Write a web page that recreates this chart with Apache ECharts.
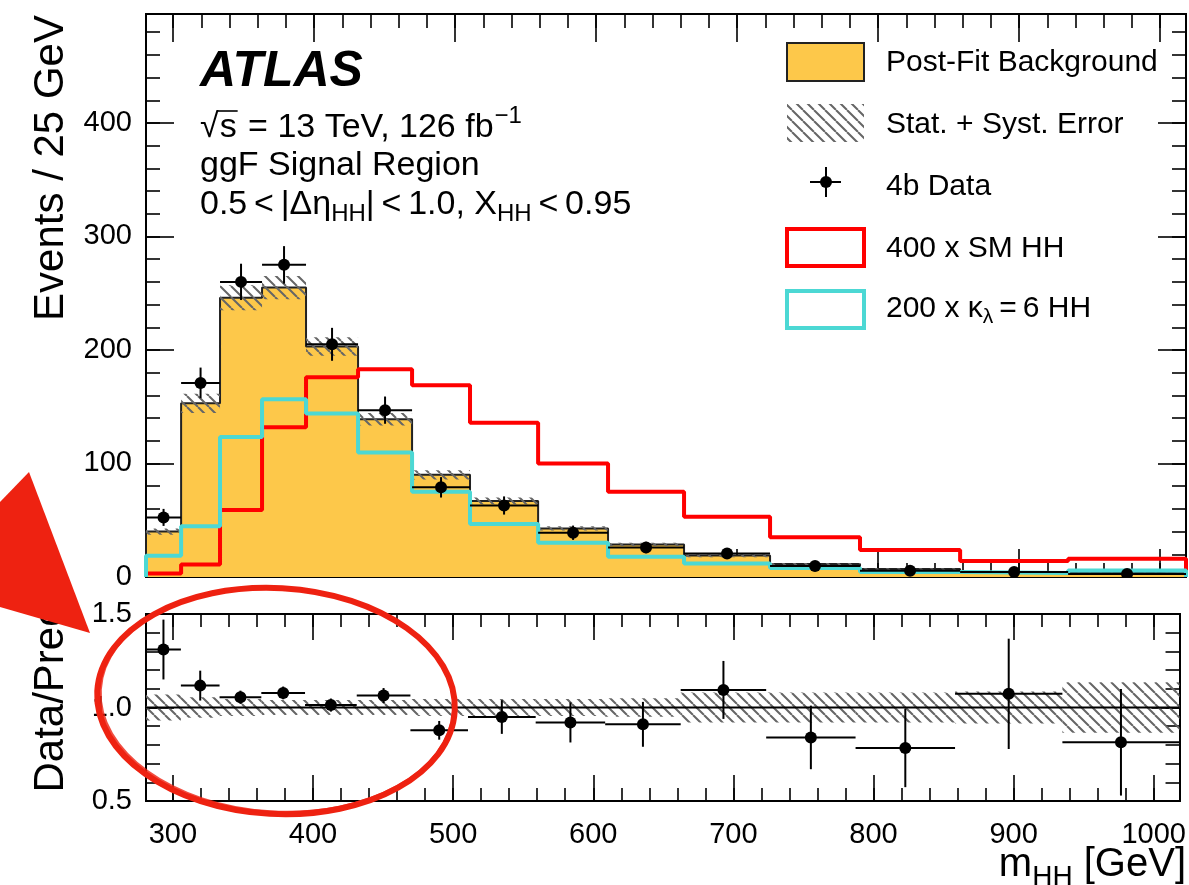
<!DOCTYPE html>
<html><head><meta charset="utf-8">
<script src="https://cdn.jsdelivr.net/npm/echarts@6/dist/echarts.min.js"></script>
<style>html,body{margin:0;padding:0;background:#fff}#c{width:1189px;height:885px}</style>
</head><body><div id="c"></div>
<script>
// ---------------- data ----------------
const binEdges = [280.8, 305.7, 333.3, 363.1, 394.3, 431.2, 469.5, 510.6, 558.9, 608.5, 662.4, 723.4, 787.2, 858.2, 934.8, 1018.4];
const background = [40, 153, 246, 255, 203, 139, 90, 67, 42.8, 28.7, 19, 11.4, 7.1, 4.2, 3.3];
const bandRelErr = [0.07, 0.055, 0.045, 0.04, 0.04, 0.04, 0.045, 0.045, 0.045, 0.05, 0.08, 0.08, 0.08, 0.085, 0.135];
const dataCounts = [52.5, 171, 260, 275, 205, 147, 79, 63, 39, 26, 20.8, 9.7, 5.5, 4.5, 2.7];
const dataErr = [7.5, 13.5, 16, 16.5, 14.5, 12, 9, 8, 6.3, 5, 4.5, 3.1, 2.4, 2.1, 1.6];
const smHH400 = [3, 11, 59, 132, 176, 183, 169, 136, 100, 75, 53, 35, 23.7, 14.2, 16];
const kl6HH200 = [18.8, 44.8, 123.4, 156.5, 144, 109.6, 75, 46.6, 30.2, 17.9, 12, 8, 4.3, 3.5, 5.8];
const ratio = [1.31, 1.117, 1.055, 1.078, 1.013, 1.064, 0.878, 0.949, 0.920, 0.910, 1.094, 0.84, 0.784, 1.073, 0.814];
const ratioErr = [0.16, 0.08, 0.035, 0.034, 0.035, 0.04, 0.05, 0.09, 0.107, 0.12, 0.155, 0.17, 0.21, 0.295, 0.285];
const xMajorTicks = [300, 400, 500, 600, 700, 800, 900, 1000];
const yMajorTicks = [0, 100, 200, 300, 400];
const rMajorTicks = [0.5, 1.0, 1.5];
const xMinorTicks = [300,320,340,360,380,400,420,440,460,480,500,520,540,560,580,600,620,640,660,680,700,720,740,760,780,800,820,840,860,880,900,920,940,960,980,1000];
const yMinorTicks = [0,20,40,60,80,100,120,140,160,180,200,220,240,260,280,300,320,340,360,380,400,420,440,460,480];
const rMinorTicks = [0.5,0.6,0.7,0.8,0.9,1.0,1.1,1.2,1.3,1.4,1.5];
const Y_MAX = 496;

// ---------------- styles ----------------
const FF = '"Liberation Sans", Arial, Helvetica, sans-serif';
const YELLOW = '#fdc84a', RED = '#ff0000', CYAN = '#4cd8d4', ANN = '#ee2211';

function hatchCanvas() {
  const s = 11, cv = document.createElement('canvas');
  cv.width = s; cv.height = s;
  const g = cv.getContext('2d');
  g.strokeStyle = '#666'; g.lineWidth = 2; g.beginPath();
  for (const k of [-1, 0, 1]) { g.moveTo(k * s, 0); g.lineTo(k * s + s, s); }
  g.stroke();
  return cv;
}
const HATCH = { image: hatchCanvas(), repeat: 'repeat' };

const mctx = document.createElement('canvas').getContext('2d');
function fontStr(size, o) { o = o || {}; return (o.style || 'normal') + ' ' + (o.weight || 'normal') + ' ' + size + 'px ' + FF; }
function tw(t, size, o) { mctx.font = fontStr(size, o); return mctx.measureText(t).width; }
const G = [];
function txt(x, base, t, size, o) {
  o = o || {};
  return { type: 'text', x: x, y: base - 0.31 * size, z: 100,
    style: { text: t, font: fontStr(size, o), fill: o.fill || '#000', align: o.align || 'left', verticalAlign: 'middle', textAlign: o.align || 'left', textVerticalAlign: 'middle' } };
}
function rich(x, base, parts, o) {
  let cx = x; const pos = [];
  parts.forEach(p => { G.push(txt(cx, base + (p.dy || 0), p.t, p.s, o)); const w = tw(p.t, p.s, o); pos.push([cx, w]); cx += w + (p.gap || 0); });
  return pos;
}
function richWidth(parts, o) { return parts.reduce((a, p) => a + tw(p.t, p.s, o) + (p.gap || 0), 0); }

// ---------------- axes ----------------
function axis(grid, pos, min, max, ticks, len, labels, fmt) {
  const a = { type: 'value', gridIndex: grid, position: pos, min: min, max: max,
    axisLine: { show: true, onZero: false, lineStyle: { color: '#000', width: 2 } },
    axisTick: { show: true, inside: true, length: len, customValues: ticks, lineStyle: { color: '#000', width: 1.6 } },
    splitLine: { show: false }, minorTick: { show: false }, axisLabel: { show: false } };
  if (labels) a.axisLabel = { show: true, customValues: ticks, color: '#000', fontSize: 29, fontFamily: FF, margin: labels, formatter: fmt };
  return a;
}
const X0 = binEdges[0], X1 = binEdges[binEdges.length - 1];
const xAxes = [
  axis(0, 'bottom', X0, X1, xMajorTicks, 28), axis(0, 'bottom', X0, X1, xMinorTicks, 14),
  axis(0, 'top', X0, X1, xMajorTicks, 28), axis(0, 'top', X0, X1, xMinorTicks, 14),
  axis(1, 'bottom', X0, X1, xMajorTicks, 26, 19, v => String(v)), axis(1, 'bottom', X0, X1, xMinorTicks, 13),
  axis(1, 'top', X0, X1, xMajorTicks, 26), axis(1, 'top', X0, X1, xMinorTicks, 13)
];
const yAxes = [
  axis(0, 'left', 0, Y_MAX, yMajorTicks, 28, 14, v => String(v)), axis(0, 'left', 0, Y_MAX, yMinorTicks, 14),
  axis(0, 'right', 0, Y_MAX, yMajorTicks, 28), axis(0, 'right', 0, Y_MAX, yMinorTicks, 14),
  axis(1, 'left', 0.5, 1.5, rMajorTicks, 28, 14, v => v.toFixed(1)), axis(1, 'left', 0.5, 1.5, rMinorTicks, 14),
  axis(1, 'right', 0.5, 1.5, rMajorTicks, 28), axis(1, 'right', 0.5, 1.5, rMinorTicks, 14)
];

// ---------------- series helpers ----------------
function stepData(vals) {
  const n = binEdges.length - 1, d = [[binEdges[0], 0]];
  vals.forEach((v, i) => d.push([binEdges[i], v]));
  d.push([binEdges[n], vals[n - 1]]); d.push([binEdges[n], 0]);
  return d;
}
function binRows(vals, errs) { return vals.map((v, i) => [binEdges[i], binEdges[i + 1], v, errs[i]]); }
function renderBand(params, api) {
  const lo = api.value(0), hi = api.value(1), v = api.value(2), e = api.value(3);
  const a = api.coord([lo, v * (1 + e)]), b = api.coord([hi, v * (1 - e)]);
  return { type: 'rect', shape: { x: a[0], y: a[1], width: b[0] - a[0], height: b[1] - a[1] }, style: { fill: HATCH } };
}
function renderPoints(params, api) {
  const lo = api.value(0), hi = api.value(1), v = api.value(2), e = api.value(3), c = (lo + hi) / 2;
  const pL = api.coord([lo, v]), pR = api.coord([hi, v]), pc = api.coord([c, v]);
  const pT = api.coord([c, v + e]), pB = api.coord([c, v - e]);
  const st = { stroke: '#000', lineWidth: 2 };
  return { type: 'group', children: [
    { type: 'line', shape: { x1: pL[0], y1: pL[1], x2: pR[0], y2: pR[1] }, style: st },
    { type: 'line', shape: { x1: pT[0], y1: pT[1], x2: pB[0], y2: pB[1] }, style: st },
    { type: 'circle', shape: { cx: pc[0], cy: pc[1], r: 6 }, style: { fill: '#000' } }
  ] };
}

const series = [
  { name: 'Post-Fit Background', type: 'line', xAxisIndex: 0, yAxisIndex: 0, step: 'end', data: stepData(background), symbol: 'none',
    lineStyle: { color: '#222', width: 2 }, areaStyle: { color: YELLOW, opacity: 1 }, z: 2 },
  { name: 'Stat. + Syst. Error', type: 'custom', xAxisIndex: 0, yAxisIndex: 0, data: binRows(background, bandRelErr), renderItem: renderBand, clip: true, z: 3 },
  { name: '400 x SM HH', type: 'line', xAxisIndex: 0, yAxisIndex: 0, step: 'end', data: stepData(smHH400), symbol: 'none', lineStyle: { color: RED, width: 4 }, z: 4 },
  { name: '200 x kl=6 HH', type: 'line', xAxisIndex: 0, yAxisIndex: 0, step: 'end', data: stepData(kl6HH200), symbol: 'none', lineStyle: { color: CYAN, width: 4 }, z: 5 },
  { name: '4b Data', type: 'custom', xAxisIndex: 0, yAxisIndex: 0, data: binRows(dataCounts, dataErr), renderItem: renderPoints, clip: true, z: 6 },
  { name: 'ratio band', type: 'custom', xAxisIndex: 4, yAxisIndex: 4, data: binRows(background.map(() => 1), bandRelErr), renderItem: renderBand, clip: true, z: 3 },
  { name: 'unity', type: 'line', xAxisIndex: 4, yAxisIndex: 4, data: [[X0, 1], [X1, 1]], symbol: 'none', lineStyle: { color: '#000', width: 2 }, z: 4 },
  { name: 'ratio', type: 'custom', xAxisIndex: 4, yAxisIndex: 4, data: binRows(ratio, ratioErr), renderItem: renderPoints, clip: true, z: 6 }
];

// ---------------- text & legend graphics ----------------
const TS = '\u2009';
G.push(txt(200, 88, 'ATLAS', 50, { weight: 'bold', style: 'italic' }));
const sq = rich(200, 138, [{ t: '√', s: 34, gap: 1 }, { t: 's', s: 34, gap: 2 }, { t: ' = 13 TeV, 126 fb', s: 34, gap: 1 }, { t: '−1', s: 24, dy: -14 }]);
G.push({ type: 'line', z: 100, shape: { x1: sq[1][0] - 2, y1: 138 - 27, x2: sq[1][0] + sq[1][1] + 1, y2: 138 - 27 }, style: { stroke: '#000', lineWidth: 1.6 } });
G.push(txt(200, 176, 'ggF Signal Region', 34));
rich(200, 215, [{ t: '0.5' + TS + '<' + TS + '|Δη', s: 34 }, { t: 'HH', s: 24, dy: 7 }, { t: '|' + TS + '<' + TS + '1.0, X', s: 34 }, { t: 'HH', s: 24, dy: 7 }, { t: TS + '<' + TS + '0.95', s: 34 }]);

// legend
G.push({ type: 'rect', z: 100, shape: { x: 787, y: 43, width: 77, height: 38 }, style: { fill: YELLOW, stroke: '#222', lineWidth: 2 } });
G.push({ type: 'rect', z: 100, shape: { x: 787, y: 104, width: 77, height: 38 }, style: { fill: HATCH } });
G.push({ type: 'line', z: 100, shape: { x1: 810, y1: 182, x2: 841, y2: 182 }, style: { stroke: '#000', lineWidth: 2 } });
G.push({ type: 'line', z: 100, shape: { x1: 826, y1: 167, x2: 826, y2: 197 }, style: { stroke: '#000', lineWidth: 2 } });
G.push({ type: 'circle', z: 100, shape: { cx: 826, cy: 182, r: 6 }, style: { fill: '#000' } });
G.push({ type: 'rect', z: 100, shape: { x: 787, y: 229, width: 77, height: 37 }, style: { fill: 'none', stroke: RED, lineWidth: 4 } });
G.push({ type: 'rect', z: 100, shape: { x: 787, y: 291, width: 77, height: 37 }, style: { fill: 'none', stroke: CYAN, lineWidth: 4 } });
G.push(txt(886, 71.7, 'Post-Fit Background', 30));
G.push(txt(886, 133.7, 'Stat. + Syst. Error', 30));
G.push(txt(886, 195.7, '4b Data', 30));
G.push(txt(886, 257.7, '400 x SM HH', 30));
rich(886, 317.7, [{ t: '200 x κ', s: 30 }, { t: 'λ', s: 21, dy: 6 }, { t: TS + '=' + TS + '6 HH', s: 30 }]);

// axis titles
G.push({ type: 'text', z: 100, x: 51, y: 168, rotation: Math.PI / 2,
  style: { text: 'Events / 25 GeV', font: fontStr(42), fill: '#000', align: 'center', verticalAlign: 'middle', textAlign: 'center', textVerticalAlign: 'middle' } });
G.push({ type: 'text', z: 100, x: 51, y: 698, rotation: Math.PI / 2,
  style: { text: 'Data/Pred', font: fontStr(42), fill: '#000', align: 'center', verticalAlign: 'middle', textAlign: 'center', textVerticalAlign: 'middle' } });
const mParts = [{ t: 'm', s: 40 }, { t: 'HH', s: 28, dy: 9 }, { t: ' [GeV]', s: 40 }];
rich(1186 - richWidth(mParts), 877, mParts);

// red annotations
G.push({ type: 'polygon', z: 120, shape: { points: [[0, 502], [29, 472], [90, 633], [0, 607]] }, style: { fill: ANN } });
G.push({ type: 'ellipse', z: 120, x: 276, y: 701, rotation: -0.055, shape: { cx: 0, cy: 0, rx: 179, ry: 113 }, style: { fill: 'none', stroke: ANN, lineWidth: 6 } });
G.push({ type: 'ellipse', z: 121, x: 277, y: 700, rotation: -0.06, shape: { cx: 0, cy: 0, rx: 177, ry: 112 }, style: { fill: 'none', stroke: ANN, lineWidth: 3, opacity: 0.8 } });

const chart = echarts.init(document.getElementById('c'), null, { renderer: 'canvas' });
chart.setOption({
  animation: false,
  backgroundColor: '#fff',
  grid: [
    { left: 146, top: 14, width: 1040, height: 563 },
    { left: 146, top: 614, width: 1040, height: 187 }
  ],
  xAxis: xAxes,
  yAxis: yAxes,
  series: series,
  graphic: { elements: G }
});
</script></body></html>
